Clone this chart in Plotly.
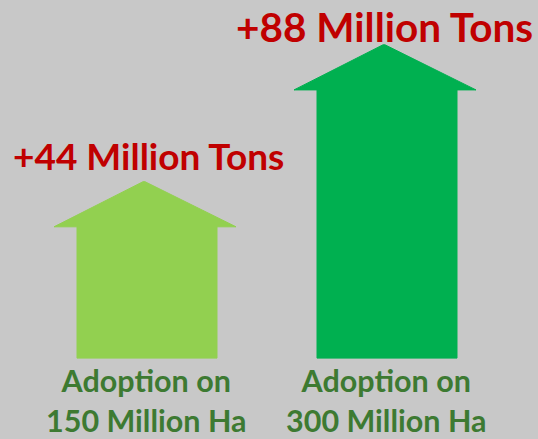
import plotly.graph_objects as go

# Data
scenarios = ["Adoption on<br>150 Million Ha", "Adoption on<br>300 Million Ha"]
gain_mt = [44, 88]
gain_labels = ["+44 Million Tons", "+88 Million Tons"]
arrow_colors = ["#92d050", "#00b050"]

BG = "#c8c8c8"
RED = "#c00000"
DARK_GREEN = "#3d7a32"

W, H = 538, 439
# vertical value axis (Million Tons), arrows rise from a common base
Y_MIN, Y_MAX = -38.7, 102.4
BASE = -12.7
HEAD_H = 14.5          # arrowhead height in axis units
centers = [145, 385]   # horizontal centre of each arrowhead (px)
SHAFT_OFF = 2          # shaft sits slightly right of the head
SHAFT_HALF = 70
HEAD_HALF = 91

fig = go.Figure()

for cx, val, col in zip(centers, gain_mt, arrow_colors):
    hb = val - HEAD_H
    sl, sr = cx + SHAFT_OFF - SHAFT_HALF, cx + SHAFT_OFF + SHAFT_HALF
    xs = [sl, sl, cx - HEAD_HALF, cx - 2, cx, cx + HEAD_HALF, sr, sr, sl]
    ys = [BASE, hb, hb, val, val, hb, hb, BASE, BASE]
    fig.add_trace(go.Scatter(
        x=xs, y=ys, mode="lines", fill="toself",
        fillcolor=col, line=dict(color=col, width=1),
        hoverinfo="skip", showlegend=False,
    ))

label_font = "Lato, 'Open Sans', sans-serif"
label_shift = [3, -7]
label_dx = [3, -1]
label_size = [37, 40.5]
for cx, val, txt, dy, dx, fs in zip(centers, gain_mt, gain_labels,
                                    label_shift, label_dx, label_size):
    fig.add_annotation(
        x=cx + dx, y=val, text=f"<b>{txt}</b>", showarrow=False,
        xanchor="center", yanchor="bottom", yshift=dy, borderpad=0,
        font=dict(family=label_font, size=fs, color=RED),
    )

for cx, name in zip(centers, scenarios):
    fig.add_annotation(
        x=cx + 1, y=BASE, text=f"<b>{name}</b>", showarrow=False,
        xanchor="center", yanchor="top", yshift=-2,
        align="center",
        font=dict(family=label_font, size=30.5, color=DARK_GREEN),
    )

fig.update_layout(
    width=W, height=H,
    margin=dict(l=0, r=0, t=0, b=0),
    paper_bgcolor=BG, plot_bgcolor=BG,
    xaxis=dict(range=[0, W], visible=False, fixedrange=True),
    yaxis=dict(range=[Y_MIN, Y_MAX], visible=False, fixedrange=True),
)

fig.write_html("out.html", config={"displayModeBar": False})
